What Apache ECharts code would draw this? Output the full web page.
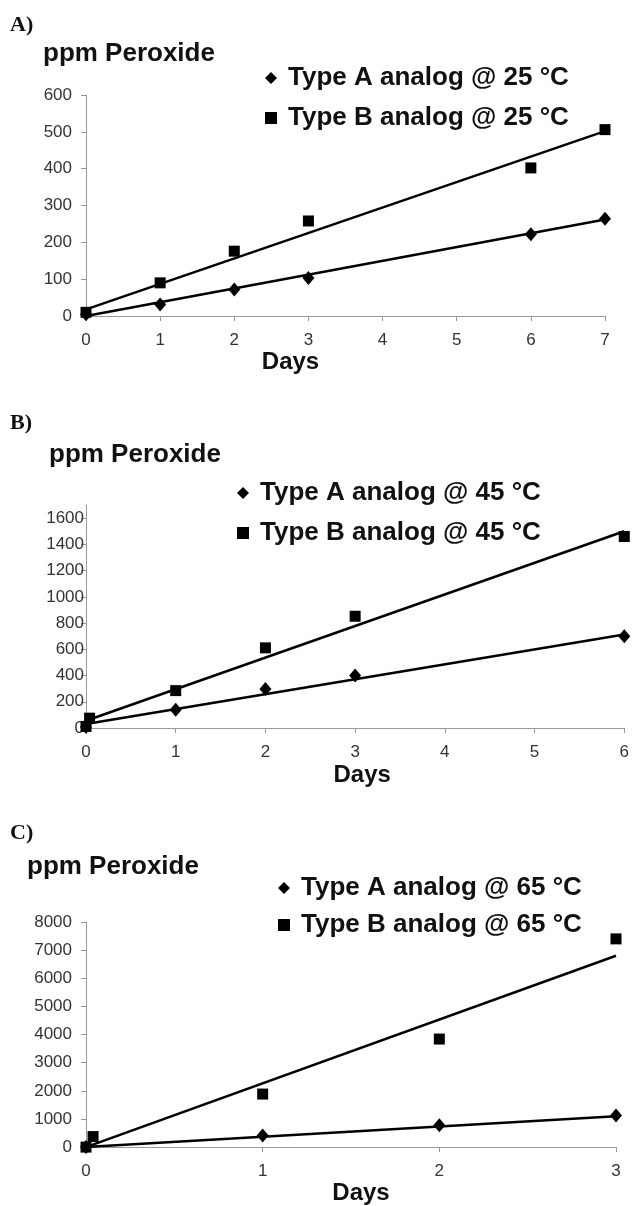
<!DOCTYPE html>
<html>
<head>
<meta charset="utf-8">
<script src="https://cdn.jsdelivr.net/npm/echarts@6/dist/echarts.min.js"></script>
<style>
  html, body { margin: 0; padding: 0; background: #fff; }
  #chart { width: 632px; height: 1206px; }
</style>
</head>
<body>
<div id="chart"></div>
<script>
// A) 25 C
const aDaysA = [0, 1, 2, 3, 6, 7];
const aTypeA = [5, 31, 72, 103, 222, 264];
const aDaysB = [0, 1, 2, 3, 6, 7];
const aTypeB = [10, 90, 176, 258, 402, 506];
const aFitDays = [0, 7];
const aFitA = [0, 262];
const aFitB = [18, 502];

// B) 45 C
const bDaysA = [0, 1, 2, 3, 6];
const bTypeA = [8, 140, 298, 400, 700];
const bDaysB = [0, 0.04, 1, 2, 3, 6];
const bTypeB = [12, 75, 285, 611, 852, 1460];
const bFitDays = [0, 6];
const bFitA = [30, 712];
const bFitB = [55, 1500];

// C) 65 C
const cDaysA = [0, 1, 2, 3];
const cTypeA = [0, 414, 780, 1120];
const cDaysB = [0, 0.04, 1, 2, 3];
const cTypeB = [0, 374, 1885, 3840, 7400];
const cFitDays = [0, 3];
const cFitA = [0, 1100];
const cFitB = [0, 6800];

const panelLabels = ["A)", "B)", "C)"];
const temps = [25, 45, 65];

const font = "Liberation Sans, Arial, sans-serif";
const zip = (xs, ys) => xs.map((x, i) => [x, ys[i]]);

const panels = [
  { daysA: aDaysA, typeA: aTypeA, daysB: aDaysB, typeB: aTypeB, fitDays: aFitDays, fitA: aFitA, fitB: aFitB,
    xMax: 7, yMax: 600, yStep: 100,
    grid: { left: 86, top: 95, width: 519, height: 221 },
    labelTop: 14, titleLeft: 43, titleTop: 41,
    legendLeft: 265, legendTop: 65, legendGap: 14,
    yMargin: 14, nameGap: 34, namePad: [0, 110, 0, 0] },
  { daysA: bDaysA, typeA: bTypeA, daysB: bDaysB, typeB: bTypeB, fitDays: bFitDays, fitA: bFitA, fitB: bFitB,
    xMax: 6, yMax: 1700, yStep: 200,
    grid: { left: 86, top: 505, width: 541, height: 223 },
    labelTop: 412, titleLeft: 49, titleTop: 442,
    legendLeft: 237, legendTop: 480, legendGap: 14,
    yMargin: 2, nameGap: 35, namePad: [0, 0, 0, 14] },
  { daysA: cDaysA, typeA: cTypeA, daysB: cDaysB, typeB: cTypeB, fitDays: cFitDays, fitA: cFitA, fitB: cFitB,
    xMax: 3, yMax: 8000, yStep: 1000,
    grid: { left: 86, top: 922, width: 530, height: 236 },
    labelTop: 822, titleLeft: 27, titleTop: 854,
    legendLeft: 278, legendTop: 875, legendGap: 11,
    yMargin: 14, nameGap: 26, namePad: [0, 0, 0, 20] },
];

const option = {
  animation: false,
  backgroundColor: "#fff",
  title: [],
  legend: [],
  grid: [],
  xAxis: [],
  yAxis: [],
  series: [],
};

panels.forEach((p, i) => {
  const nameA = "Type A analog @ " + temps[i] + " °C";
  const nameB = "Type B analog @ " + temps[i] + " °C";

  option.title.push({
    text: panelLabels[i], left: 10, top: p.labelTop, padding: 0,
    textStyle: { fontFamily: "Liberation Serif, Times New Roman, serif", fontWeight: "bold", fontSize: 22, color: "#111" },
  });
  option.title.push({
    text: "ppm Peroxide", left: p.titleLeft, top: p.titleTop, padding: 0,
    textStyle: { fontFamily: font, fontWeight: "bold", fontSize: 26, color: "#111" },
  });

  option.legend.push({
    data: [nameA, nameB],
    orient: "vertical",
    left: p.legendLeft,
    top: p.legendTop,
    padding: 0,
    itemGap: p.legendGap,
    itemWidth: 12,
    itemHeight: 12,
    selectedMode: false,
    itemStyle: { color: "#000", opacity: 1 },
    textStyle: { fontFamily: font, fontWeight: "bold", fontSize: 26, lineHeight: 26, color: "#111", padding: [0, 0, 0, 6] },
  });

  option.grid.push(p.grid);

  option.xAxis.push({
    gridIndex: i, type: "value", min: 0, max: p.xMax, interval: 1,
    name: "Days", nameLocation: "middle", nameGap: p.nameGap,
    nameTextStyle: { fontFamily: font, fontWeight: "bold", fontSize: 24, color: "#111", padding: p.namePad },
    axisLine: { show: true, lineStyle: { color: "#999", width: 1 } },
    axisTick: { show: true, length: 5, lineStyle: { color: "#999" } },
    axisLabel: { margin: 16, fontFamily: font, fontSize: 17, color: "#333", formatter: (v) => String(v) },
    splitLine: { show: false },
  });

  option.yAxis.push({
    gridIndex: i, type: "value", min: 0, max: p.yMax, interval: p.yStep,
    axisLine: { show: true, lineStyle: { color: "#999", width: 1 } },
    axisTick: { show: true, length: 5, lineStyle: { color: "#999" } },
    axisLabel: {
      margin: p.yMargin, fontFamily: font, fontSize: 17, color: "#333",
      showMaxLabel: p.yMax % p.yStep === 0, formatter: (v) => String(v),
    },
    splitLine: { show: false },
  });

  // fitted trend lines
  option.series.push({
    type: "line", xAxisIndex: i, yAxisIndex: i, data: zip(p.fitDays, p.fitA),
    symbol: "none", silent: true, lineStyle: { color: "#000", width: 2.5 }, z: 2,
  });
  option.series.push({
    type: "line", xAxisIndex: i, yAxisIndex: i, data: zip(p.fitDays, p.fitB),
    symbol: "none", silent: true, lineStyle: { color: "#000", width: 2.5 }, z: 2,
  });

  // measured points
  option.series.push({
    name: nameA, type: "scatter", xAxisIndex: i, yAxisIndex: i, data: zip(p.daysA, p.typeA),
    symbol: "diamond", symbolSize: [12, 14], itemStyle: { color: "#000", opacity: 1 }, z: 3,
  });
  option.series.push({
    name: nameB, type: "scatter", xAxisIndex: i, yAxisIndex: i, data: zip(p.daysB, p.typeB),
    symbol: "rect", symbolSize: 11, itemStyle: { color: "#000", opacity: 1 }, z: 3,
  });
});

const chart = echarts.init(document.getElementById("chart"), null, { renderer: "canvas" });
chart.setOption(option);
</script>
</body>
</html>
